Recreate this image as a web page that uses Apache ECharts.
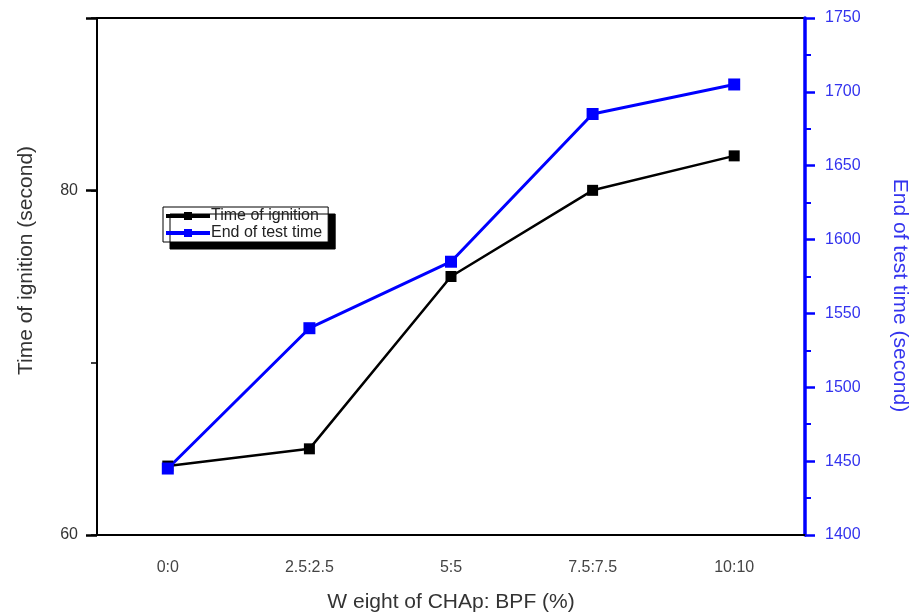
<!DOCTYPE html>
<html>
<head>
<meta charset="utf-8">
<script src="https://cdn.jsdelivr.net/npm/echarts@6/dist/echarts.min.js"></script>
<style>html,body{margin:0;padding:0;background:#fff;}#c{width:911px;height:616px;}</style>
</head>
<body>
<div id="c"></div>
<script>
var categories = ['0:0', '2.5:2.5', '5:5', '7.5:7.5', '10:10'];
var ignitionTime = [64, 65, 75, 80, 82];
var endOfTestTime = [1445, 1540, 1585, 1685, 1705];
var leftLabels = [60, 80];

var chart = echarts.init(document.getElementById('c'));
var font = 'Liberation Sans, Arial, sans-serif';
chart.setOption({
  animation: false,
  backgroundColor: '#fff',
  grid: { left: 97, right: 106, top: 18, bottom: 81, containLabel: false, outerBoundsMode: 'none', show: true, borderColor: '#000', borderWidth: 2, backgroundColor: 'transparent' },
  legend: {
    orient: 'vertical', left: 163, top: 207,
    itemWidth: 44, itemHeight: 10, itemGap: 1,
    padding: [1, 6, 1, 1],
    backgroundColor: '#fff', borderColor: '#000', borderWidth: 1,
    shadowColor: '#000', shadowBlur: 0, shadowOffsetX: 7, shadowOffsetY: 7,
    lineStyle: { width: 4 },
    textStyle: { fontFamily: font, fontSize: 16, color: '#222', padding: [0, 0, 0, -4] },
    data: ['Time of ignition', 'End of test time']
  },
  xAxis: [{
    type: 'category', data: categories, position: 'bottom', boundaryGap: true,
    axisLine: { lineStyle: { color: '#000', width: 2 } },
    axisTick: { alignWithLabel: true, length: 8, lineStyle: { color: '#000', width: 2 } },
    axisLabel: { fontFamily: font, fontSize: 16, color: '#444', margin: 25 },
    name: 'W eight of CHAp: BPF (%)', nameLocation: 'middle', nameGap: 57,
    nameTextStyle: { fontFamily: font, fontSize: 21, color: '#333' }
  }, {
    type: 'category', data: categories, position: 'bottom', boundaryGap: true,
    axisLine: { show: false },
    axisTick: { alignWithLabel: false, length: 5, lineStyle: { color: '#000', width: 1.5 } },
    axisLabel: { show: false }
  }],
  yAxis: [{
    type: 'value', min: 60, max: 90, interval: 10, position: 'left',
    axisLine: { show: true, lineStyle: { color: '#000', width: 2 } },
    axisTick: { show: true, length: 6, lineStyle: { color: '#000', width: 1.5 } },
    axisLabel: { show: false }, splitLine: { show: false }
  }, {
    type: 'value', min: 60, max: 90, interval: 20, position: 'left',
    axisLine: { show: false },
    axisTick: { show: true, length: 11, lineStyle: { color: '#000', width: 2.5 } },
    axisLabel: {
      fontFamily: font, fontSize: 16, color: '#333', margin: 19,
      formatter: function (v) { return leftLabels.indexOf(v) >= 0 ? String(v) : ''; }
    },
    splitLine: { show: false },
    name: 'Time of ignition (second)', nameLocation: 'middle', nameGap: 60,
    nameTextStyle: { fontFamily: font, fontSize: 21, color: '#333', padding: [0, 0, 0, 32] }
  }, {
    type: 'value', min: 1400, max: 1750, interval: 50, position: 'right',
    axisLine: { show: true, lineStyle: { color: '#0000ff', width: 3.5 } },
    axisTick: { show: true, length: 10, lineStyle: { color: '#0000ff', width: 2.5 } },
    minorTick: { show: true, splitNumber: 2, length: 6, lineStyle: { color: '#0000ff', width: 2 } },
    axisLabel: { fontFamily: font, fontSize: 16, color: '#3333ee', margin: 20, formatter: function (v) { return String(v); } },
    splitLine: { show: false },
    name: 'End of test time (second)', nameLocation: 'middle', nameGap: 84, nameRotate: -90,
    nameTextStyle: { fontFamily: font, fontSize: 21, color: '#3333ee', padding: [0, 0, 0, 38] }
  }],
  series: [{
    name: 'Time of ignition', type: 'line', xAxisIndex: 0, yAxisIndex: 1, data: ignitionTime,
    symbol: 'rect', symbolSize: 11, showAllSymbol: true,
    lineStyle: { color: '#000', width: 2.5 }, itemStyle: { color: '#000' }
  }, {
    name: 'End of test time', type: 'line', xAxisIndex: 0, yAxisIndex: 2, data: endOfTestTime,
    symbol: 'rect', symbolSize: 12, showAllSymbol: true,
    lineStyle: { color: '#0000ff', width: 3 }, itemStyle: { color: '#0000ff' }
  }]
});
</script>
</body>
</html>
